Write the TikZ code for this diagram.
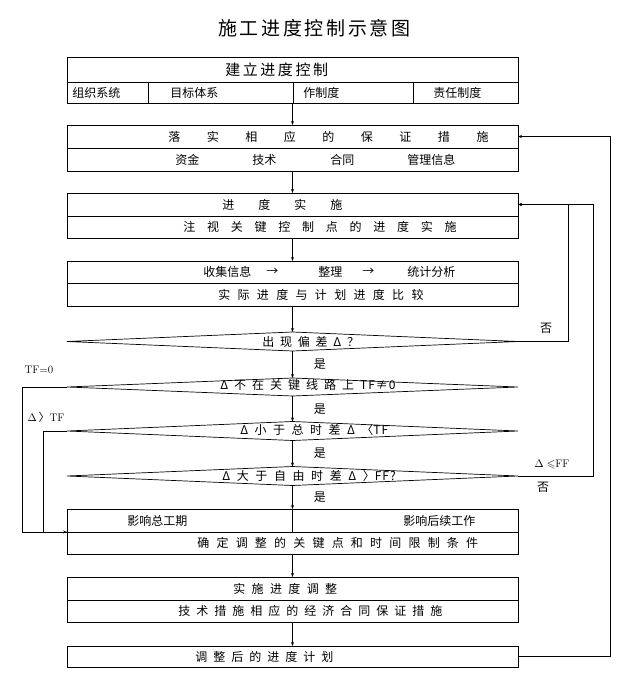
\documentclass[tikz,border=0pt]{standalone}
\usepackage{fontspec}
\usepackage{amssymb}
\usetikzlibrary{positioning,shapes.geometric,arrows.meta}
\newfontfamily\cjk{Noto Sans CJK SC}
\newcommand\tight[1]{{\addfontfeature{LetterSpace=8}#1}}
\tikzset{
    row/.style={draw, minimum width=451pt, minimum height=#1, inner sep=0pt, outer sep=0pt},
    row/.default=23pt,
    test/.style={diamond, draw, minimum width=451pt, minimum height=#1, inner sep=0pt, outer sep=0pt},
    test/.default=19pt,
    txt/.style={font=\cjk\fontsize{12}{14}\selectfont, inner sep=0pt, anchor=west},
    spaced/.style={txt, font=\cjk\fontsize{12}{14}\selectfont\addfontfeature{LetterSpace=#1}},
    yes/.style={txt, xshift=21pt},
    lab/.style={font=\fontsize{11}{13}\selectfont, inner sep=0pt},
    flow/.style={-{Stealth[length=4pt,width=3pt]}},
}
\begin{document}
\begin{tikzpicture}[x=1pt, y=-1pt, line width=0.7pt]
    \useasboundingbox (0,0) rectangle (636,695);
    \node [txt, font=\cjk\fontsize{19}{22}\selectfont\addfontfeature{LetterSpace=14}] (title) at (218,28) {施工进度控制示意图};

    \node [row=25pt] (b1a) at (292.5,69.5) {};
    \node [row=21pt, below=0pt of b1a] (b1b) {};
    \foreach \x in {148,293,413}
        \draw (b1b.north -| \x,0) -- (b1b.south -| \x,0);
    \node [txt, font=\cjk\fontsize{15}{17}\selectfont\addfontfeature{LetterSpace=17}] (t1) at (225,69.5) {建立进度控制};
    \node [txt] (t1a) at (72,93) {组织系统};
    \node [txt] (t1b) at (170,93) {目标体系};
    \node [txt] (t1c) at (303,93) {作制度};
    \node [txt] (t1d) at (433,93) {责任制度};

    \node [row] (b2a) at (292.5,136.5) {};
    \node [row, below=0pt of b2a] (b2b) {};
    \node [spaced=221] (t2) at (168,136.5) {落实相应的保证措施};
    \node [txt] (t2a) at (175,159.5) {资金};
    \node [txt] (t2b) at (252,159.5) {技术};
    \node [txt] (t2c) at (330,159.5) {合同};
    \node [txt] (t2d) at (407,159.5) {管理信息};

    \node [row] (b3a) at (292.5,204.5) {};
    \node [row=22pt, below=0pt of b3a] (b3b) {};
    \node [spaced=200] (t3) at (222,204.5) {进度实施};
    \node [spaced=98] (t3a) at (183,227) {注视关键控制点的进度实施};

    \node [row=22pt] (b4a) at (292.5,272) {};
    \node [row, below=0pt of b4a] (b4b) {};
    \node [txt] (t4a) at (203,272) {收集信息};
    \node [txt] (t4b) at (266,272) {→};
    \node [txt] (t4c) at (318,272) {整理};
    \node [txt] (t4d) at (362,272) {→};
    \node [txt] (t4e) at (407,272) {统计分析};
    \node [spaced=61] (t4) at (218,294.5) {实际进度与计划进度比较};

    \node [test] (d1) at (292.5,341.5) {};
    \node [spaced=48] (td1) at (262,341.5) {出现偏差Δ？};
    \node [test=18pt] (d2) at (292.5,387) {};
    \node [spaced=50] (td2) at (220,385) {Δ不在关键线路上\hspace{6pt}\tight{TF≠0}};
    \node [test] (d3) at (292.5,431) {};
    \node [spaced=54] (td3) at (240,430) {Δ小于总时差Δ〈\tight{TF}};
    \node [test] (d4) at (292.5,476) {};
    \node [spaced=55] (td4) at (222,476) {Δ大于自由时差Δ〉\tight{FF?}};

    \node [row] (b5a) at (292.5,520.5) {};
    \node [row=22pt, below=0pt of b5a] (b5b) {};
    \draw (b5a.north) -- (b5a.south);
    \node [txt] (t5a) at (127,520.5) {影响总工期};
    \node [txt] (t5b) at (403,520.5) {影响后续工作};
    \node [spaced=60] (t5) at (197,543) {确定调整的关键点和时间限制条件};

    \node [row] (b6a) at (292.5,588.5) {};
    \node [row=22pt, below=0pt of b6a] (b6b) {};
    \node [spaced=53] (t6) at (233,588.5) {实施进度调整};
    \node [spaced=50] (t6a) at (178,611) {技术措施相应的经济合同保证措施};

    \node [row=21pt] (b7) at (292.5,656.5) {};
    \node [spaced=50] (t7) at (195,656.5) {调整后的进度计划};

    \draw [flow] (b1b.south) -- (b2a.north);
    \draw [flow] (b2b.south) -- (b3a.north);
    \draw [flow] (b3b.south) -- (b4a.north);
    \draw [flow] (b4b.south) -- (d1.north);
    \draw [flow] (d1.south) -- node [yes] (y1) {是} (d2.north);
    \draw [flow] (d2.south) -- node [yes] (y2) {是} (d3.north);
    \draw [flow] (d3.south) -- node [yes] (y3) {是} (d4.north);
    \draw [flow] (d4.south) -- node [yes] (y4) {是} (b5a.north);
    \draw [flow] (b5b.south) -- (b6a.north);
    \draw [flow] (b6b.south) -- (b7.north);

    \draw [flow] (d1.east) -| ([xshift=50pt]b3a.east) -- (b3a.east);
    \draw [flow] (d4.east) -| ([xshift=75pt]b3a.east) -- (b3a.east);
    \draw [flow] (b7.east) -| ([xshift=92pt]b2a.east) -- (b2a.east);
    \draw [flow] (d2.west) -- ++(-45,0) |- (b5a.south west);
    \draw (d3.west) -- ++(-24,0) |- (b5a.south west);

    \node [txt, anchor=center] (no1) at (546,328) {否};
    \node [lab] (le) at (552,465) {$\Delta\leqslant$FF};
    \node [txt, anchor=center] (no2) at (543,487) {否};
    \node [lab] (tf) at (39,370) {TF$=$0};
    \node [lab] (gt) at (46,417) {$\Delta${\cjk\,〉}TF};
\end{tikzpicture}
\end{document}
